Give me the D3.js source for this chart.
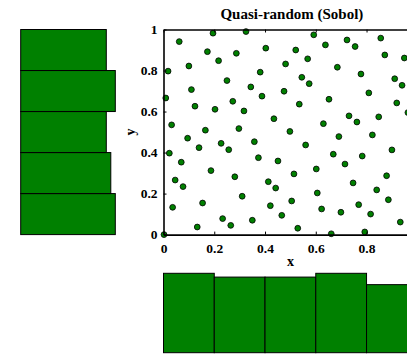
<!DOCTYPE html>
<html>
<head>
<meta charset="utf-8">
<script src="https://cdn.jsdelivr.net/npm/d3@7"></script>
<style>
  html, body { margin: 0; padding: 0; background: #fff; }
  svg { display: block; }
  text { font-family: "Liberation Serif", "Times New Roman", serif; font-weight: bold; fill: #000; }
</style>
</head>
<body>
<svg id="chart" width="407" height="354"></svg>
<script>
// Quasi-random (Sobol) sample of 100 points in the unit square
const xs = [
  0.195, 0.062, 0.173, 0.287, 0.217, 0.018, 0.100, 0.250, 0.110, 0.009,
  0.124, 0.203, 0.273, 0.317, 0.032, 0.165, 0.297, 0.325, 0.592, 0.638,
  0.403, 0.521, 0.568, 0.481, 0.381, 0.545, 0.574, 0.344, 0.388, 0.475,
  0.535, 0.435, 0.630, 0.498, 0.723, 0.856, 0.755, 0.872, 0.949, 0.685,
  0.778, 0.911, 0.940, 0.809, 0.652, 0.919, 0.963, 0.731, 0.848, 0.762,
  0.095, 0.227, 0.140, 0.257, 0.023, 0.070, 0.187, 0.281, 0.046, 0.077,
  0.310, 0.036, 0.154, 0.233, 0.133, 0.265, 0.002, 0.358, 0.560, 0.374,
  0.451, 0.514, 0.602, 0.413, 0.442, 0.505, 0.606, 0.421, 0.623, 0.466,
  0.350, 0.529, 0.691, 0.823, 0.669, 0.783, 0.900, 0.715, 0.879, 0.747,
  0.840, 0.886, 0.769, 0.699, 0.816, 0.933, 0.661, 0.793, 0.988, 0.992
];
const ys = [
  0.982, 0.941, 0.892, 0.884, 0.848, 0.797, 0.822, 0.751, 0.707, 0.666,
  0.626, 0.611, 0.650, 0.603, 0.535, 0.509, 0.517, 0.990, 0.974, 0.925,
  0.909, 0.900, 0.857, 0.832, 0.792, 0.767, 0.736, 0.720, 0.675, 0.699,
  0.636, 0.565, 0.541, 0.503, 0.949, 0.958, 0.917, 0.876, 0.861, 0.816,
  0.783, 0.760, 0.728, 0.691, 0.660, 0.642, 0.595, 0.579, 0.574, 0.549,
  0.470, 0.445, 0.424, 0.414, 0.397, 0.353, 0.312, 0.282, 0.266, 0.234,
  0.187, 0.133, 0.154, 0.078, 0.037, 0.045, 0.000, 0.453, 0.437, 0.375,
  0.359, 0.296, 0.320, 0.258, 0.227, 0.164, 0.203, 0.141, 0.125, 0.094,
  0.070, 0.031, 0.478, 0.486, 0.392, 0.383, 0.413, 0.344, 0.287, 0.252,
  0.218, 0.170, 0.146, 0.109, 0.100, 0.061, 0.004, 0.013, 0.350, 0.140
];

// Histogram bin edges and axis tick labels
const binEdges = [0, 0.2, 0.4, 0.6, 0.8, 1];
const xTickLabels = ["0", "0.2", "0.4", "0.6", "0.8", "1"];
const yTickLabels = ["0", "0.2", "0.4", "0.6", "0.8", "1"];

const titleText = "Quasi-random (Sobol)";
const green = "#008000";

const W = 407, H = 354;
const svg = d3.select("#chart").attr("width", W).attr("height", H);

// Main scatter axes (the right-hand edge runs past the figure border)
const plot = { left: 163.5, right: 417.3, top: 29.5, bottom: 234.6 };
const x = d3.scaleLinear().domain([0, 1]).range([plot.left, plot.right]);
const y = d3.scaleLinear().domain([0, 1]).range([plot.bottom, plot.top]);

// Bin counts for the marginal histograms
const binner = d3.bin().domain([0, 1]).thresholds(binEdges.slice(1, -1));
const xBins = binner(xs);
const yBins = binner(ys);

// Left histogram: horizontal bars along y
const yMax = d3.max(yBins, b => b.length);
const hx = d3.scaleLinear().domain([0, yMax]).range([20.7, 115.3]);
svg.append("g").selectAll("rect").data(yBins).join("rect")
  .attr("x", hx(0))
  .attr("y", b => y(b.x1))
  .attr("width", b => hx(b.length) - hx(0))
  .attr("height", b => y(b.x0) - y(b.x1))
  .attr("fill", green)
  .attr("stroke", "#000")
  .attr("stroke-width", 1);

// Bottom histogram: vertical bars along x
const xMax = d3.max(xBins, b => b.length);
const hy = d3.scaleLinear().domain([0, xMax]).range([352.7, 273.3]);
svg.append("g").selectAll("rect").data(xBins).join("rect")
  .attr("x", b => x(b.x0))
  .attr("y", b => hy(b.length))
  .attr("width", b => x(b.x1) - x(b.x0))
  .attr("height", b => hy(0) - hy(b.length))
  .attr("fill", green)
  .attr("stroke", "#000")
  .attr("stroke-width", 1);

// Scatter points
const pts = xs.map((v, i) => ({ x: v, y: ys[i] }));
svg.append("g").selectAll("circle").data(pts).join("circle")
  .attr("cx", d => x(d.x))
  .attr("cy", d => y(d.y))
  .attr("r", 2.9)
  .attr("fill", green)
  .attr("stroke", "#000")
  .attr("stroke-width", 0.8);

// Axes with inward ticks, boxed
const tickVals = binEdges;
// only label the x ticks that fall inside the figure
const xLabelled = tickVals.filter(v => x(v) < W - 4);
const fontSize = "13.5px";

const bottomAxis = d3.axisBottom(x).tickValues(tickVals)
  .tickFormat((d, i) => xLabelled.includes(d) ? xTickLabels[i] : "")
  .tickSizeInner(-3).tickSizeOuter(0).tickPadding(9);
const gb = svg.append("g").attr("transform", `translate(0,${plot.bottom})`).call(bottomAxis);

const leftAxis = d3.axisLeft(y).tickValues(tickVals)
  .tickFormat((d, i) => yTickLabels[i]).tickSizeInner(-3).tickSizeOuter(0).tickPadding(6);
const gl = svg.append("g").attr("transform", `translate(${plot.left},0)`).call(leftAxis);

const topAxis = d3.axisTop(x).tickValues(tickVals).tickFormat("").tickSizeInner(-3).tickSizeOuter(0);
const gt = svg.append("g").attr("transform", `translate(0,${plot.top})`).call(topAxis);

const rightAxis = d3.axisRight(y).tickValues(tickVals).tickFormat("").tickSizeInner(-3).tickSizeOuter(0);
const gr = svg.append("g").attr("transform", `translate(${plot.right},0)`).call(rightAxis);

[gb, gl, gt, gr].forEach(g => {
  g.select(".domain").attr("stroke", "#000").attr("stroke-width", 1.6);
  g.selectAll(".tick line").attr("stroke", "#000").attr("stroke-width", 1);
  g.selectAll(".tick text")
    .style("font-family", '"Liberation Serif", "Times New Roman", serif')
    .style("font-weight", "bold")
    .style("font-size", fontSize)
    .attr("fill", "#000");
});
gb.selectAll(".tick text").filter(function () { return this.textContent === ""; }).remove();

// Title and axis labels
svg.append("text")
  .attr("x", (plot.left + plot.right) / 2 + 1.5)
  .attr("y", 18.5)
  .attr("text-anchor", "middle")
  .style("font-size", "15px")
  .text(titleText);

svg.append("text")
  .attr("x", (plot.left + plot.right) / 2)
  .attr("y", 266)
  .attr("text-anchor", "middle")
  .style("font-size", "14px")
  .text("x");

svg.append("text")
  .attr("transform", `translate(135, ${(plot.top + plot.bottom) / 2}) rotate(-90)`)
  .attr("text-anchor", "middle")
  .style("font-size", "14px")
  .text("y");
</script>
</body>
</html>
